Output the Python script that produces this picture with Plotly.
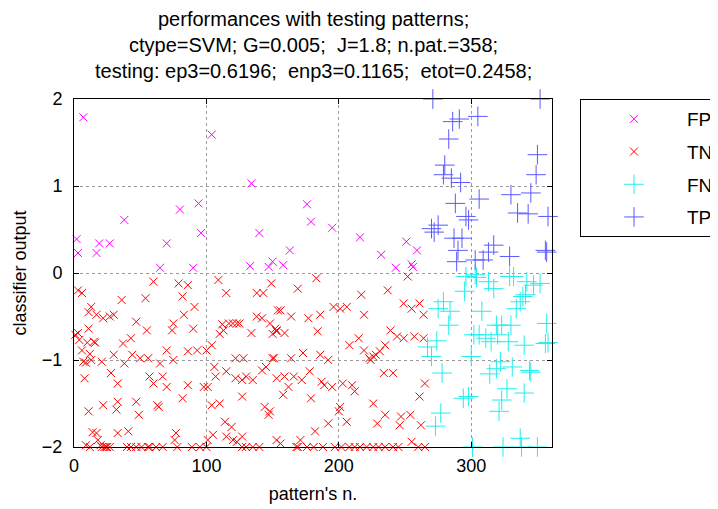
import plotly.graph_objects as go

# ---------------- data ----------------
fp_x = [7, 104, 134, 94, 80, 38, 140, 96, 2, 19, 27, 70, 3, 17, 65, 90, 133, 147,
        150, 176, 179, 195, 216, 163, 256, 158, 232, 251, 259, 243, 255]
fp_y = [1.79, 1.59, 1.03, 0.80, 0.73, 0.61, 0.46, 0.46, 0.39, 0.34, 0.34, 0.34, 0.23,
        0.23, 0.06, 0.06, 0.08, 0.07, 0.13, 0.79, 0.59, 0.52, 0.41, 0.26, 0.07, 0.09,
        0.21, 0.36, 0.26, 0.06, 0.10]

tn_x = [3, 6, 60, 79, 86, 109, 115, 149, 138, 143, 82, 36, 54, 13, 91, 17, 22, 27, 30,
        83, 47, 75, 74, 55, 90, 11, 1, 4, 15, 37, 43, 6, 70, 86, 93, 100, 30, 44, 75, 7,
        13, 21, 38, 50, 56, 65, 28, 8, 57, 60, 67, 70, 33, 86, 98, 82, 11, 22, 33, 32,
        47, 49, 63, 64, 17, 33, 41, 77, 76, 18, 20,
        12, 21, 23, 24, 25, 27, 40, 43, 47, 51, 56, 57, 62, 67, 78, 89, 95, 100,
        11, 3, 10, 12, 9, 16, 14, 9,
        104, 112, 110, 113, 117, 120, 123, 125, 134, 138, 142, 148, 153, 150, 154, 122,
        128, 151, 145, 142, 106, 107, 115, 122, 127, 130, 135, 101, 127, 104, 110, 144,
        147, 114, 119, 105, 101, 115, 120, 123, 127, 153,
        127, 130, 135, 140,
        183, 169, 237, 252, 217, 196, 201, 206, 249, 255, 261, 219, 264, 156, 164, 177,
        186, 152, 159, 153, 184, 239, 244, 249, 257, 264, 208, 215, 219, 235, 231, 223,
        226, 228, 224, 150, 164, 173, 186, 192, 153, 159, 166, 172, 178, 187, 195, 189,
        162, 158, 203, 210, 212, 234, 241, 265, 179, 261, 201, 200, 226, 235, 229, 247,
        246, 254, 262, 192, 206, 182, 148, 156, 171, 255,
        168, 169, 176, 181, 188, 197, 202, 208, 212, 216, 221, 226, 230, 235, 241, 245,
        260, 265]
tn_y = [-0.20, -0.23, -0.10, -0.12, -0.14, -0.08, -0.23, -0.12, -0.23, -0.23, -0.27,
        -0.31, -0.29, -0.39, -0.39, -0.48, -0.52, -0.50, -0.48, -0.48, -0.56, -0.58,
        -0.66, -0.66, -0.64, -0.64, -0.71, -0.77, -0.79, -0.81, -0.75, -0.89, -0.89,
        -0.90, -0.89, -0.89, -0.94, -0.94, -1.00, -1.02, -1.00, -1.02, -1.04, -0.98,
        -0.98, -1.04, -1.15, -1.21, -1.19, -1.27, -1.19, -1.31, -1.27, -1.29, -1.31,
        -1.44, -1.59, -1.52, -1.48, -1.57, -1.48, -1.63, -1.52, -1.54, -1.84, -1.84,
        -1.82, -1.84, -1.92, -1.92, -1.98,
        -2, -2, -2, -2, -2, -2, -2, -2, -2, -2, -2, -2, -2, -2, -2, -2, -2, -2,
        -0.45, -0.69, -0.80, -0.93, -1.03, -0.80, -1.83, -1.98,
        -0.83, -0.59, -0.70, -0.66, -0.58, -0.58, -0.58, -0.58, -0.69, -0.50, -0.52,
        -0.58, -0.66, -0.70, -0.43, -0.98, -0.98, -0.98, -1.08, -1.12, -1.08, -1.19,
        -1.13, -1.21, -1.23, -1.19, -1.23, -1.31, -1.42, -1.52, -1.50, -1.54, -1.63,
        -1.71, -1.77, -1.86, -1.92, -1.88, -1.92, -1.94, -1.88, -1.92,
        -2, -2, -2, -2,
        -0.06, -0.18, -0.20, -0.04, -0.25, -0.39, -0.41, -0.39, -0.35, -0.41, -0.35,
        -0.48, -0.48, -0.43, -0.50, -0.52, -0.48, -0.64, -0.69, -0.67, -0.67, -0.66,
        -0.73, -0.75, -0.73, -0.75, -0.83, -0.75, -0.89, -0.83, -0.90, -0.98, -0.96,
        -0.94, -1.00, -0.98, -0.98, -0.92, -0.94, -1.00, -1.21, -1.19, -1.19, -1.23,
        -1.13, -1.25, -1.31, -1.29, -1.31, -1.40, -1.27, -1.29, -1.36, -1.15, -1.15,
        -1.27, -1.44, -1.42, -1.54, -1.59, -1.50, -1.63, -1.73, -1.65, -1.75, -1.63,
        -1.75, -1.73, -1.71, -1.82, -1.59, -1.96, -1.92, -1.94,
        -2, -2, -2, -2, -2, -2, -2, -2, -2, -2, -2, -2, -2, -2, -2, -2, -2, -2]

fn_x = [296, 303, 313, 317, 329, 332, 342, 347, 352, 295, 279, 339, 341, 337, 275, 284,
        308, 334, 283, 357, 319, 323, 330, 302, 306, 311, 315, 320, 328, 340, 274, 267,
        356, 358, 300, 270, 322, 331, 319, 314, 344, 345, 278, 327, 340, 294, 298, 323,
        321, 277, 273, 337, 301, 324, 338, 350, 304]
fn_y = [-0.04, -0.02, -0.10, -0.18, -0.04, -0.04, -0.10, -0.14, -0.12, -0.21, -0.33,
        -0.27, -0.25, -0.33, -0.41, -0.44, -0.44, -0.41, -0.60, -0.58, -0.60, -0.60,
        -0.60, -0.71, -0.71, -0.75, -0.79, -0.71, -0.79, -0.83, -0.78, -0.85, -0.81,
        -0.80, -0.96, -0.96, -1.02, -1.08, -1.10, -1.16, -1.12, -1.14, -1.15, -1.33,
        -1.38, -1.44, -1.42, -1.46, -1.59, -1.61, -1.76, -1.90, -2.0, -2.0, -2.0, -2.0,
        -0.05]

tp_x = [271, 352, 286, 291, 305, 283, 350, 280, 279, 285, 292, 349, 288, 306, 330, 345,
        335, 343, 358, 298, 296, 270, 275, 272, 287, 293, 290, 317, 313, 356, 357, 289,
        303, 309, 329]
tp_y = [2.0, 2.0, 1.74, 1.77, 1.80, 1.54, 1.36, 1.24, 1.13, 1.09, 1.04, 1.13, 0.80,
        0.85, 0.90, 0.92, 0.69, 0.68, 0.65, 0.61, 0.65, 0.51, 0.55, 0.47, 0.40, 0.40,
        0.26, 0.32, 0.24, 0.26, 0.24, 0.13, 0.15, 0.15, 0.19]

x_ticks = [0, 100, 200, 300]
y_ticks = [-2, -1, 0, 1, 2]

title_lines = ["performances with testing patterns;",
               "ctype=SVM; G=0.005;  J=1.8; n.pat.=358;",
               "testing: ep3=0.6196;  enp3=0.1165;  etot=0.2458;"]

# ---------------- figure ----------------
# the page has an 8px body margin, so the figure is 8px smaller than the window
W, H = 710, 501
ML, MR, MT, MB = 66, 166, 91, 62
PH = H - MT - MB
PW = W - ML - MR

FONT = "Liberation Sans, Arial, sans-serif"
fig = go.Figure()


def add(x, y, name, color, symbol, size):
    fig.add_trace(go.Scatter(
        x=x, y=y, mode="markers", name=name, legendgroup=name,
        cliponaxis=False,
        marker=dict(symbol=symbol, size=size, color=color,
                    line=dict(color=color, width=1))))


add(fp_x, fp_y, "FP", "#ff00ff", "x-thin", 8)
add(tn_x, tn_y, "TN", "#ff0000", "x-thin", 8)
add(fn_x, fn_y, "FN", "#22eeee", "cross-thin", 14)
add(tp_x, tp_y, "TP", "#5a5aff", "cross-thin", 14)

axis_common = dict(
    showline=True, linecolor="black", linewidth=1, mirror="ticks",
    ticks="inside", ticklen=5, tickcolor="black",
    showgrid=True, gridcolor="#9a9a9a", griddash="dot", gridwidth=1,
    zeroline=False, tickfont=dict(family=FONT, size=18, color="black"),
)

# title lines as annotations (centres in window pixels: 19, 45, 71)
line_centres = [19, 45, 71]
for txt, yc in zip(title_lines, line_centres):
    fig.add_annotation(
        text=txt, xref="paper", yref="paper", x=0.5,
        y=(H - MB - (yc - 8)) / PH, xanchor="center", yanchor="middle",
        showarrow=False, font=dict(family=FONT, size=20, color="black"))

fig.update_layout(
    width=W, height=H,
    margin=dict(l=ML, r=MR, t=MT, b=MB, autoexpand=False),
    paper_bgcolor="white", plot_bgcolor="white",
    font=dict(family=FONT, size=18, color="black"),
    xaxis=dict(range=[0, 361], tickvals=x_ticks, ticklabelstandoff=2,
               title=dict(text="pattern's n.", standoff=12,
                          font=dict(family=FONT, size=18)),
               **axis_common),
    yaxis=dict(range=[-2, 2], tickvals=y_ticks, ticklabelstandoff=7,
               title=dict(text="classifier output", standoff=10,
                          font=dict(family=FONT, size=18)),
               **axis_common),
    legend=dict(x=(580 - 8 - ML) / PW, y=1, xanchor="left", yanchor="top",
                bordercolor="black", borderwidth=1, bgcolor="white",
                itemwidth=96, traceorder="grouped", tracegroupgap=5,
                font=dict(family=FONT, size=19, color="black")),
    showlegend=True,
)

fig.write_html("out.html")
